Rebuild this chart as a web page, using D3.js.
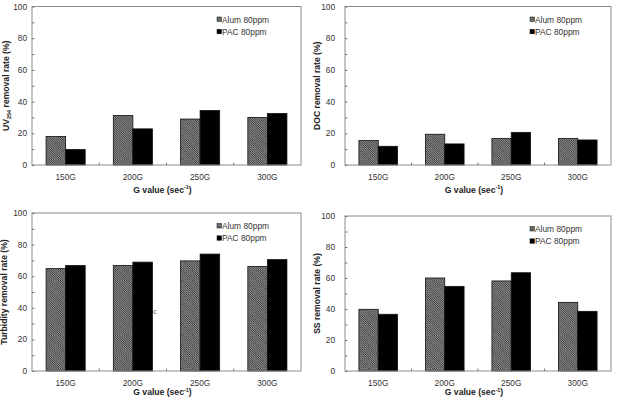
<!DOCTYPE html>
<html>
<head>
<meta charset="utf-8">
<style>
    body { margin: 0; background: white; }
    svg { display: block; font-family: "Liberation Sans", Arial, sans-serif; }
    .frame { fill: none; stroke: #8c8c8c; stroke-width: 1; }
    .tick line { stroke: #777; }
    .ticklabel { font-size: 8.3px; fill: #333; }
    .axistitle { font-size: 8.6px; font-weight: bold; fill: #222; }
    .legend text { font-size: 8.4px; fill: #333; }
    .bar { stroke: #111; stroke-width: 0.8; }
</style>
</head>
<body>
<div id="chart"></div>
<script src="https://cdn.jsdelivr.net/npm/d3@7"></script>
<script>

//////////////////// data ////////////////////
const categories = ['150G', '200G', '250G', '300G'];
const seriesNames = ['Alum 80ppm', 'PAC 80ppm'];
const yTicks = [0, 20, 40, 60, 80, 100];

const uvAlum = [18, 31.2, 29, 30];
const uvPac = [9.8, 22.8, 34.4, 32.5];
const docAlum = [15.4, 19.4, 16.8, 16.8];
const docPac = [11.8, 13.3, 20.6, 15.8];
const turbAlum = [64.8, 66.8, 69.7, 66.2];
const turbPac = [66.8, 68.9, 74, 70.5];
const ssAlum = [39.8, 60, 58.1, 44.3];
const ssPac = [36.6, 54.6, 63.4, 38.5];

//////////////////// layout ////////////////////
const W = 617, H = 397;

const panels = [
    {alum: uvAlum, pac: uvPac, label: 'UV', sub: '254', rest: ' removal rate (%)',
     left: 32, right: 301, top: 6.5, bottom: 165, labX: 8.5, tickGap: 5},
    {alum: docAlum, pac: docPac, label: 'DOC removal rate (%)',
     left: 345, right: 611, top: 6.5, bottom: 165, labX: 320, tickGap: 10},
    {alum: turbAlum, pac: turbPac, label: 'Turbidity removal rate (%)',
     left: 32, right: 301, top: 213, bottom: 371, labX: 6.5, tickGap: 5},
    {alum: ssAlum, pac: ssPac, label: 'SS removal rate (%)',
     left: 345, right: 611, top: 216, bottom: 371, labX: 320, tickGap: 10}
];

const svg = d3.select('#chart').append('svg')
    .attr('width', W)
    .attr('height', H);

svg.append('rect').attr('width', W).attr('height', H).attr('fill', 'white');

// hachures pour Alum
const defs = svg.append('defs');
const HS = 2.2;
const pat = defs.append('pattern')
    .attr('id', 'hatch')
    .attr('patternUnits', 'userSpaceOnUse')
    .attr('width', HS)
    .attr('height', HS);
pat.append('rect').attr('width', HS).attr('height', HS).attr('fill', '#bdbdbd');
pat.append('path')
    .attr('d', `M-1,-1 L${HS + 1},${HS + 1} M-1,${HS - 1} L1,${HS + 1} M${HS - 1},-1 L${HS + 1},1`)
    .attr('stroke', '#222')
    .attr('stroke-width', 0.9);

panels.forEach(drawPanel);

// petit "c" parasite dans le graphe turbidité
svg.append('text')
    .attr('x', 153)
    .attr('y', 314)
    .attr('font-size', 7)
    .attr('fill', '#666')
    .text('c');

//////////////////// function ////////////////////
function drawPanel(p) {
    const g = svg.append('g');

    const x0 = d3.scaleBand()
        .domain(categories)
        .range([p.left, p.right])
        .padding(0);

    const x1 = d3.scaleBand()
        .domain(seriesNames)
        .range([0, x0.bandwidth()])
        .paddingInner(0)
        .paddingOuter(0.72);

    const y = d3.scaleLinear()
        .domain([0, 100])
        .range([p.bottom, p.top]);

    // barres
    categories.forEach((cat, i) => {
        const vals = [p.alum[i], p.pac[i]];
        seriesNames.forEach((s, j) => {
            g.append('rect')
                .classed('bar', true)
                .attr('x', x0(cat) + x1(s))
                .attr('y', y(vals[j]))
                .attr('width', x1.bandwidth())
                .attr('height', y(0) - y(vals[j]))
                .attr('fill', j == 0 ? 'url(#hatch)' : '#000');
        });
    });

    // cadre
    g.append('rect')
        .classed('frame', true)
        .attr('x', p.left)
        .attr('y', p.top)
        .attr('width', p.right - p.left)
        .attr('height', p.bottom - p.top);

    // axe y
    const yAxis = d3.axisLeft(y)
        .tickValues(d3.range(0, 101, 10))
        .tickSize(-2.5)
        .tickFormat('');
    const ya = g.append('g')
        .attr('transform', `translate(${p.left},0)`)
        .call(yAxis);
    ya.select('.domain').remove();

    yTicks.forEach(t => {
        g.append('text')
            .classed('ticklabel', true)
            .attr('x', p.left - p.tickGap)
            .attr('y', y(t) + 3)
            .attr('text-anchor', 'end')
            .text(t);
    });

    // axe x : petits traits entre les categories
    categories.slice(1).forEach(cat => {
        g.append('line')
            .attr('x1', x0(cat)).attr('x2', x0(cat))
            .attr('y1', p.bottom).attr('y2', p.bottom - 2.5)
            .attr('stroke', '#777');
    });

    categories.forEach(cat => {
        g.append('text')
            .classed('ticklabel', true)
            .attr('x', x0(cat) + x0.bandwidth() / 2)
            .attr('y', p.bottom + 15)
            .attr('text-anchor', 'middle')
            .text(cat);
    });

    // titre axe x
    const xt = g.append('text')
        .classed('axistitle', true)
        .attr('x', (p.left + p.right) / 2 - 4)
        .attr('y', Math.min(p.bottom + 27.5, H - 2))
        .attr('text-anchor', 'middle');
    xt.append('tspan').text('G value (sec');
    xt.append('tspan').attr('font-size', 5.5).attr('dy', -3.5).text('-1');
    xt.append('tspan').attr('dy', 3.5).text(')');

    // titre axe y
    const yt = g.append('text')
        .classed('axistitle', true)
        .attr('transform', `translate(${p.labX},${(p.top + p.bottom) / 2}) rotate(-90)`)
        .attr('text-anchor', 'middle');
    if (p.sub) {
        yt.append('tspan').text(p.label);
        yt.append('tspan').attr('font-size', 5.5).attr('dy', 2).text(p.sub);
        yt.append('tspan').attr('dy', -2).text(p.rest);
    } else {
        yt.text(p.label);
    }

    // legende
    const leg = g.append('g')
        .classed('legend', true)
        .attr('transform', `translate(${p.left + 185},${p.top + 13})`);
    seriesNames.forEach((s, j) => {
        leg.append('rect')
            .attr('x', 0)
            .attr('y', j * 12.3 - 2.5)
            .attr('width', 4.5)
            .attr('height', 4.5)
            .attr('fill', j == 0 ? 'url(#hatch)' : '#000')
            .attr('stroke', '#111')
            .attr('stroke-width', 0.5);
        leg.append('text')
            .attr('x', 5)
            .attr('y', j * 12.3 + 3)
            .text(s);
    });
}

</script>
</body>
</html>
